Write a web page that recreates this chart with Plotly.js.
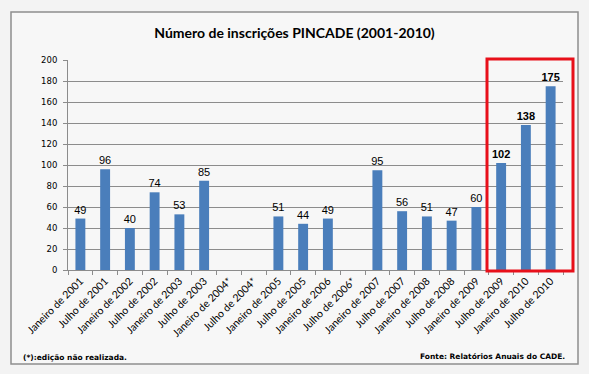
<!DOCTYPE html>
<html>
<head>
<meta charset="utf-8">
<script src="https://cdn.plot.ly/plotly-3.0.1.min.js"></script>
<style>html,body{margin:0;padding:0;background:#f3f3f3;}#chart{width:589px;height:374px;}</style>
</head>
<body>
<div id="chart"></div>
<script>
const categories = ["Janeiro de 2001","Julho de 2001","Janeiro de 2002","Julho de 2002","Janeiro de 2003","Julho de 2003","Janeiro de 2004*","Julho de 2004*","Janeiro de 2005","Julho de 2005","Janeiro de 2006","Julho de 2006*","Janeiro de 2007","Julho de 2007","Janeiro de 2008","Julho de 2008","Janeiro de 2009","Julho de 2009","Janeiro de 2010","Julho de 2010"];
const inscricoes = [49,96,40,74,53,85,null,null,51,44,49,null,95,56,51,47,60,102,138,175];
const boldFrom = 17;
const yTicks = [0,20,40,60,80,100,120,140,160,180,200];

const labels = inscricoes.map((v,i) => v === null ? "" : (i >= boldFrom ? "<b>" + v + "</b>" : String(v)));

const trace = {
  type: "bar",
  x: categories,
  y: inscricoes,
  text: labels,
  textposition: "outside",
  constraintext: "none",
  cliponaxis: false,
  textfont: {family: "Liberation Sans, Arial, sans-serif", size: 11, color: "#000000"},
  marker: {color: "#4a7ebb", line: {width: 0}},
  hoverinfo: "x+y"
};

const layout = {
  width: 589, height: 374,
  margin: {l: 68, r: 26, t: 60, b: 104},
  paper_bgcolor: "#f3f3f3",
  plot_bgcolor: "rgba(0,0,0,0)",
  bargap: 0.6,
  showlegend: false,
  title: {
    text: "Número de inscrições PINCADE (2001-2010)",
    font: {family: "Lato, Open Sans, sans-serif", size: 14, color: "#000000", weight: "bold"},
    x: 0.5, xref: "container", xanchor: "center",
    y: 1 - 33/374, yref: "container", yanchor: "middle"
  },
  xaxis: {
    type: "category",
    tickangle: -45,
    tickfont: {family: "Lato, Open Sans, sans-serif", size: 10.5, color: "#000000"},
    showgrid: false,
    showline: true, linecolor: "#8c8c8c", linewidth: 1,
    ticks: "outside", ticklen: 4, tickcolor: "#8c8c8c",
    tickson: "boundaries",
    range: [-0.5, categories.length - 0.5],
    fixedrange: true
  },
  yaxis: {
    range: [0, 200],
    tickvals: yTicks,
    ticktext: yTicks.map(String),
    tickfont: {family: "DejaVu Sans, Verdana, sans-serif", size: 8.5, color: "#000000"},
    showgrid: true, gridcolor: "#8c8c8c", gridwidth: 1,
    showline: true, linecolor: "#8c8c8c", linewidth: 1,
    ticks: "outside", ticklen: 4, tickcolor: "#8c8c8c",
    ticklabelstandoff: 4,
    zeroline: false,
    fixedrange: true
  },
  shapes: [
    {type: "rect", xref: "paper", yref: "paper", layer: "below",
     x0: (11-68)/495, x1: (578-68)/495, y0: (270-364)/210, y1: (270-12)/210,
     fillcolor: "#f7f7f7", line: {color: "#8f8f8f", width: 1.5}},
    {type: "rect", xref: "paper", yref: "paper", layer: "above",
     x0: (487-68)/495, x1: (573-68)/495, y0: (270-271)/210, y1: (270-59)/210,
     fillcolor: "rgba(0,0,0,0)", line: {color: "#e8101a", width: 3}}
  ],
  annotations: [
    {text: "<b>(*):edição não realizada.</b>", xref: "paper", yref: "paper",
     x: (21-68)/495, y: (270-357)/210, xanchor: "left", yanchor: "middle", showarrow: false,
     font: {family: "DejaVu Sans, Verdana, sans-serif", size: 7.5, color: "#000000"}},
    {text: "<b>Fonte: Relatórios Anuais do CADE.</b>", xref: "paper", yref: "paper",
     x: (567-68)/495, y: (270-356)/210, xanchor: "right", yanchor: "middle", showarrow: false,
     font: {family: "DejaVu Sans, Verdana, sans-serif", size: 7.5, color: "#000000"}}
  ]
};

Plotly.newPlot("chart", [trace], layout, {displayModeBar: false, staticPlot: true});
</script>
</body>
</html>
